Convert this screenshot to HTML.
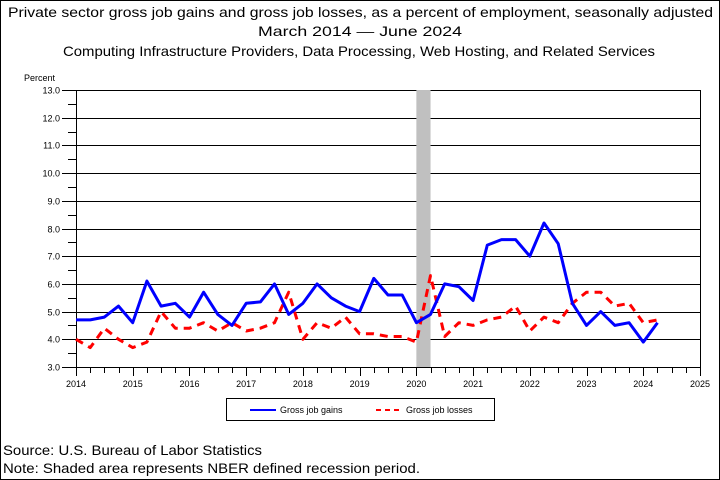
<!DOCTYPE html>
<html><head><meta charset="utf-8"><style>
body{margin:0;background:#fff}
svg{display:block;font-family:"Liberation Sans",sans-serif}
</style></head><body>
<svg id="c" width="720" height="480" viewBox="0 0 720 480">
<rect x="0.5" y="0.5" width="719" height="479" fill="#fff" stroke="#000"/>
<text x="8" y="17" font-size="14" textLength="705" lengthAdjust="spacingAndGlyphs">Private sector gross job gains and gross job losses, as a percent of employment, seasonally adjusted</text>
<text x="258" y="36" font-size="14" textLength="204" lengthAdjust="spacingAndGlyphs">March 2014 — June 2024</text>
<text x="63" y="56" font-size="14" textLength="592" lengthAdjust="spacingAndGlyphs">Computing Infrastructure Providers, Data Processing, Web Hosting, and Related Services</text>
<text x="24" y="81" font-size="9">Percent</text>
<g id="grid"></g>
<rect id="rec" fill="#c0c0c0"/>
<g id="axes"></g>
<g id="series"></g>
<rect x="226.5" y="398.5" width="268" height="22" fill="#fff" stroke="#000"/>
<line x1="250" y1="410" x2="276" y2="410" stroke="#0000ff" stroke-width="2"/>
<text x="280" y="413" font-size="9">Gross job gains</text>
<line x1="376" y1="410" x2="402" y2="410" stroke="#ff0000" stroke-width="2" stroke-dasharray="5,4"/>
<text x="406" y="413" font-size="9">Gross job losses</text>
<text x="3" y="455" font-size="14" textLength="259" lengthAdjust="spacingAndGlyphs">Source: U.S. Bureau of Labor Statistics</text>
<text x="3" y="473" font-size="14" textLength="417" lengthAdjust="spacingAndGlyphs">Note: Shaded area represents NBER defined recession period.</text>
</svg>
<script>
const startYear = 2014;
const gains = [4.7,4.7,4.8,5.2, 4.6,6.1,5.2,5.3, 4.8,5.7,4.9,4.5, 5.3,5.35,6.0,4.9, 5.3,6.0,5.5,5.2, 5.0,6.2,5.6,5.6, 4.6,4.9,6.0,5.9, 5.4,7.4,7.6,7.6, 7.0,8.2,7.45,5.3, 4.5,5.0,4.5,4.6, 3.9,4.6];
const losses = [4.0,3.7,4.4,4.0, 3.7,3.9,5.0,4.4, 4.4,4.6,4.3,4.6, 4.3,4.4,4.6,5.7, 4.0,4.6,4.4,4.8, 4.2,4.2,4.1,4.1, 3.9,6.3,4.1,4.6, 4.5,4.7,4.8,5.2, 4.3,4.8,4.6,5.3, 5.7,5.7,5.2,5.3, 4.6,4.7];
const yTicks = ["3.0","4.0","5.0","6.0","7.0","8.0","9.0","10.0","11.0","12.0","13.0"];
const xTicks = ["2014","2015","2016","2017","2018","2019","2020","2021","2022","2023","2024","2025"];
const recession = [2020.0, 2020.25];

const L=76,R=700,T=90,B=367,NS="http://www.w3.org/2000/svg";
const xs=t=>L+(t-2014)*(R-L)/11;
const ys=v=>B-(v-3)*(B-T)/10;
function mk(tag,attrs,parent){const e=document.createElementNS(NS,tag);for(const k in attrs)e.setAttribute(k,attrs[k]);parent.appendChild(e);return e;}
const grid=document.getElementById('grid'),axes=document.getElementById('axes'),ser=document.getElementById('series');
yTicks.forEach((t,i)=>{const v=parseFloat(t),y=Math.round(ys(v))+0.5;
 const g=mk('line',{x1:L,x2:R,y1:y,y2:y,stroke:'#000','stroke-width':1},grid);
 
 
 const tk=mk('line',{x1:L-14,x2:L,y1:y,y2:y,stroke:'#000'},axes);
 
 
 const tx=mk('text',{x:L-16,y:y+3,'font-size':9,'text-anchor':'end'},axes);tx.textContent=t;
 
 
 if(i<yTicks.length-1){const ym=Math.round(ys(v+0.5))+0.5;
  const m=mk('line',{x1:L-8,x2:L,y1:ym,y2:ym,stroke:'#000'},axes);
  
  }
});
const rec=document.getElementById('rec');
rec.setAttribute('x',xs(recession[0]));rec.setAttribute('width',xs(recession[1])-xs(recession[0]));
rec.setAttribute('y',T);rec.setAttribute('height',B-T);
mk('line',{x1:L+.5,x2:L+.5,y1:T,y2:B,stroke:'#000'},axes);
mk('line',{x1:R+.5,x2:R+.5,y1:T,y2:B,stroke:'#000'},axes);
mk('line',{x1:L,x2:R,y1:B+.5,y2:B+.5,stroke:'#000'},axes);
xTicks.forEach((t,i)=>{const yr=parseFloat(t);
 for(let q=0;q<4&&(i<xTicks.length-1||q==0);q++){const x=Math.round(xs(yr+q/4))+0.5;
  const tk=mk('line',{x1:x,x2:x,y1:B,y2:B+(q==0?9:6),stroke:'#000'},axes);
  
  }
 const tx=mk('text',{x:xs(yr),y:B+20,'font-size':9,'text-anchor':'middle'},axes);tx.textContent=t;
 
 
});
function line(arr,color,dash,name){const pts=arr.map((v,i)=>xs(startYear+i/4).toFixed(1)+','+ys(v).toFixed(1)).join(' ');
 const p=mk('polyline',{points:pts,fill:'none',stroke:color,'stroke-width':3,'stroke-linejoin':'round'},ser);
 if(dash)p.setAttribute('stroke-dasharray',dash);
 
 }
line(losses,'#ff0000','8,6','gross-job-losses-line');
line(gains,'#0000ff',null,'gross-job-gains-line');
</script>
</body></html>
